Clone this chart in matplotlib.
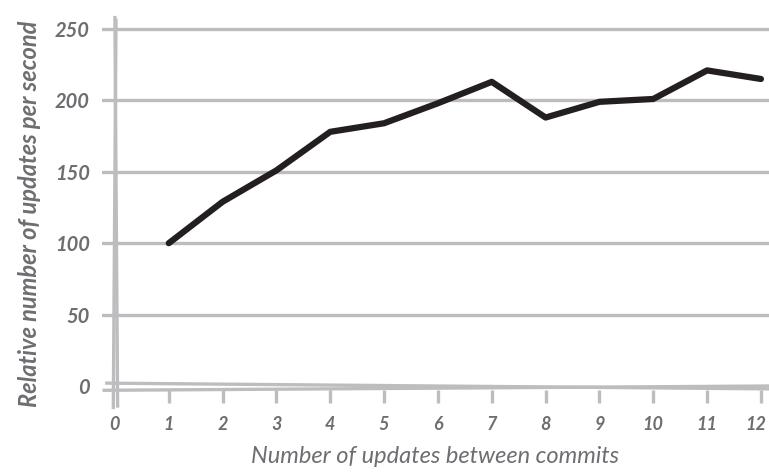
import matplotlib.pyplot as plt
import matplotlib.transforms as mtransforms

# data
updates = [1, 2, 3, 4, 5, 6, 7, 8, 9, 10, 11, 12]
rate = [100, 129, 151, 178, 184, 198, 213, 188, 199, 201, 221, 215]
y_ticks = [0, 50, 100, 150, 200, 250]
x_ticks = list(range(13))

grid_col = "#bdbdc0"
text_col = "#6d6e71"

plt.rcParams["font.family"] = ["Lato", "DejaVu Sans"]

fig = plt.figure(figsize=(7.69, 4.73), dpi=100)
ax = fig.add_axes([102 / 769, 61 / 473, 667 / 769, 397 / 473])

# grid lines
for v in y_ticks[1:]:
    ax.axhline(v, color=grid_col, lw=2.4, zorder=1)

# doubled baseline and y axis, slightly off like the hand drawing
ax.plot([-0.15, 12.15], [2, -2], color=grid_col, lw=2.4, zorder=1)
ax.plot([-0.2, 12.15], [-3, 0], color=grid_col, lw=2.4, zorder=1)
ax.plot([-0.03, 0.02], [-15, 256], color=grid_col, lw=2.4, zorder=1)
ax.plot([0.05, 0.0], [-14, 258], color=grid_col, lw=2.4, zorder=1)

# tick marks on the x axis
ax.vlines(updates, -12, -3, color=grid_col, lw=2.4, zorder=1)

# the data line
ax.plot(updates, rate, color="#231f20", lw=4.5, solid_capstyle="round",
        solid_joinstyle="round", zorder=3)

ax.set_xlim(-0.24, 12.15)
ax.set_ylim(-18.2, 259.8)
ax.set_xticks(x_ticks)
ax.set_yticks(y_ticks)
ax.tick_params(length=0, labelsize=14.5, labelcolor=text_col)
ax.tick_params(axis="y", pad=9)
ax.tick_params(axis="x", pad=3, labelsize=13)
for lab in ax.get_xticklabels() + ax.get_yticklabels():
    lab.set_fontstyle("italic")
    lab.set_fontweight("bold")
for s in ax.spines.values():
    s.set_visible(False)

# keep "12" inside the picture
fig.canvas.draw()
last = ax.get_xticklabels()[-1]
last.set_transform(last.get_transform() +
                   mtransforms.ScaledTranslation(-5 / 100, 0, fig.dpi_scale_trans))

ax.set_xlabel("Number of updates between commits", fontsize=17,
              color=text_col, fontstyle="italic", labelpad=9)
ax.set_ylabel("Relative number of updates per second", fontsize=17,
              color=text_col, fontstyle="italic", fontweight="bold", labelpad=10)

fig.savefig("out.png", dpi=100)
